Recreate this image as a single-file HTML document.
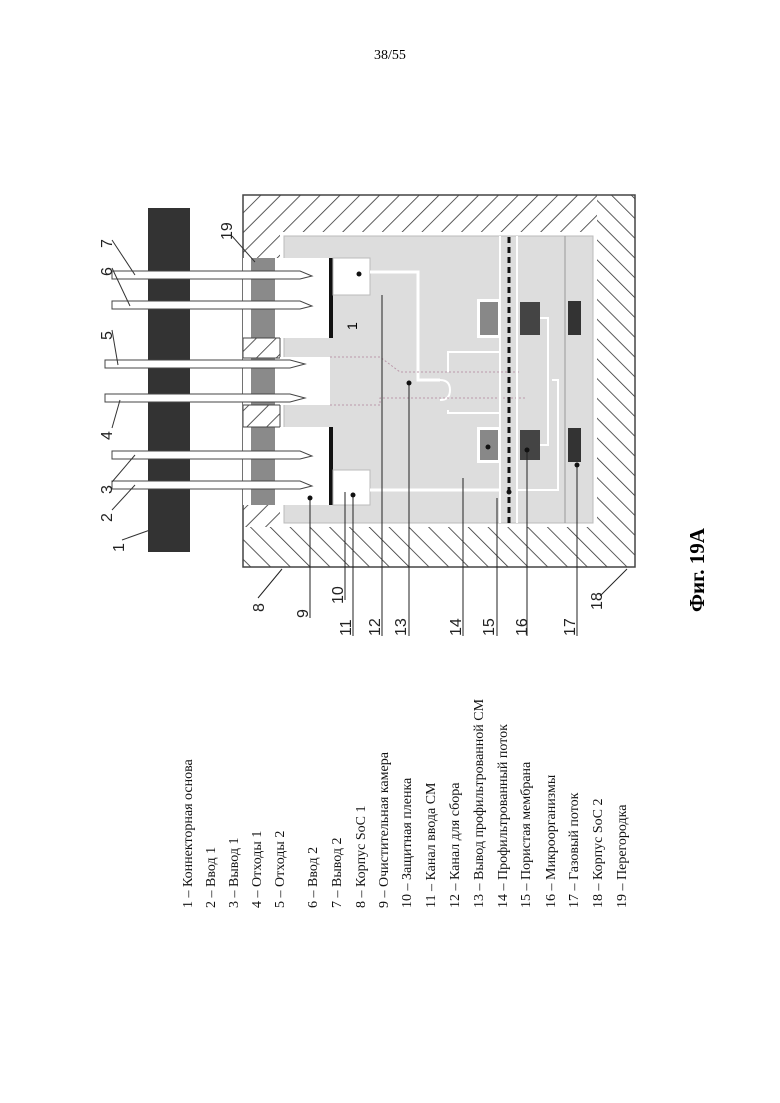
<!DOCTYPE html>
<html><head><meta charset="utf-8"><style>
html,body{margin:0;padding:0;background:#fff;}
svg{display:block;font-family:"Liberation Serif",serif;}
.s{font-family:"Liberation Sans",sans-serif;}
</style></head><body>
<svg width="780" height="1103" viewBox="0 0 780 1103" xmlns="http://www.w3.org/2000/svg">
<defs>
<pattern id="h" patternUnits="userSpaceOnUse" width="14" height="14" patternTransform="rotate(45)">
<rect width="14" height="14" fill="#fff"/><line x1="0" y1="0" x2="0" y2="14" stroke="#333" stroke-width="1.6"/>
</pattern>
<pattern id="h2" patternUnits="userSpaceOnUse" width="14" height="14" patternTransform="rotate(-45)">
<rect width="14" height="14" fill="#fff"/><line x1="0" y1="0" x2="0" y2="14" stroke="#333" stroke-width="1.6"/>
</pattern>
</defs>
<text x="390" y="59" font-size="14" text-anchor="middle">38/55</text>

<!-- outer hatched -->
<rect x="243" y="195" width="392" height="372" fill="url(#h)"/>
<rect x="243" y="527" width="392" height="40" fill="url(#h2)"/>
<rect x="597" y="195" width="38" height="372" fill="url(#h2)"/>
<rect x="243" y="195" width="392" height="372" fill="none" stroke="#444" stroke-width="1.5"/>
<rect x="280" y="232" width="317" height="295" fill="#fff"/>
<rect x="284" y="236" width="309" height="287" fill="#ddd" stroke="#bbb"/>
<!-- left opening -->
<rect x="243" y="258" width="40" height="247" fill="#fff"/>
<rect x="251" y="258" width="24" height="247" fill="#8a8a8a"/>
<rect x="243" y="338" width="37" height="20" fill="url(#h)" stroke="#444"/>
<rect x="243" y="405" width="37" height="22" fill="url(#h)" stroke="#444"/>
<!-- white chambers -->
<rect x="280" y="258" width="52" height="80" fill="#fff"/>
<rect x="280" y="427" width="52" height="78" fill="#fff"/>
<rect x="280" y="357" width="50" height="48" fill="#fff"/>
<rect x="329" y="258" width="4" height="80" fill="#111"/>
<rect x="329" y="427" width="4" height="78" fill="#111"/>
<rect x="333" y="258" width="37" height="37" fill="#fff" stroke="#bbb"/>
<rect x="333" y="470" width="37" height="35" fill="#fff" stroke="#bbb"/>
<text x="357" y="330" font-size="14" class="s" transform="rotate(-90 357 330)">1</text>
<!-- channels -->
<polyline points="370,272 418,272 418,380 440,380" fill="none" stroke="#fff" stroke-width="3"/>
<polyline points="370,490 500,490" fill="none" stroke="#fff" stroke-width="3"/>
<path d="M448,372 L448,352 L500,352 M448,410 L448,413 L500,413" fill="none" stroke="#fff" stroke-width="2"/>
<path d="M440,380 Q450,380 450,390 Q450,400 440,400" fill="none" stroke="#fff" stroke-width="2"/>
<path d="M330,357 L380,357 L400,372 L520,372 M330,405 L380,405 L380,398 L525,398" fill="none" stroke="#b9a" stroke-width="1" stroke-dasharray="2,2"/>
<line x1="500" y1="236" x2="500" y2="523" stroke="#fff" stroke-width="2"/>
<line x1="517" y1="236" x2="517" y2="523" stroke="#fff" stroke-width="2"/>
<line x1="565" y1="236" x2="565" y2="523" stroke="#999" stroke-width="1"/>
<line x1="509" y1="237" x2="509" y2="523" stroke="#111" stroke-width="3" stroke-dasharray="6,4"/>
<path d="M540,318 L548,318 L548,445 L540,445 M552,380 L558,380 L558,490 L517,490" fill="none" stroke="#fff" stroke-width="2"/>
<!-- rectangles -->
<rect x="477" y="299" width="24" height="39" fill="#fff"/>
<rect x="480" y="302" width="18" height="33" fill="#888"/>
<rect x="477" y="427" width="24" height="36" fill="#fff"/>
<rect x="480" y="430" width="18" height="30" fill="#888"/>
<rect x="520" y="302" width="20" height="33" fill="#444"/>
<rect x="520" y="430" width="20" height="30" fill="#444"/>
<rect x="568" y="301" width="13" height="34" fill="#333"/>
<rect x="568" y="428" width="13" height="34" fill="#333"/>
<!-- connector base & pins -->
<rect x="148" y="208" width="42" height="344" fill="#333"/>
<g fill="#fff" stroke="#444" stroke-width="1">
<path d="M112,271 L300,271 L312,276 L300,279 L112,279 Z"/>
<path d="M112,301 L300,301 L312,306 L300,309 L112,309 Z"/>
<path d="M105,360 L290,360 L305,364 L290,368 L105,368 Z"/>
<path d="M105,394 L290,394 L305,398 L290,402 L105,402 Z"/>
<path d="M112,451 L300,451 L312,456 L300,459 L112,459 Z"/>
<path d="M112,481 L300,481 L312,486 L300,489 L112,489 Z"/>
</g>
<!-- top labels and leaders -->
<g font-size="16" class="s" stroke="#333" fill="none">
<line x1="122" y1="540" x2="150" y2="530"/><line x1="112" y1="510" x2="135" y2="485"/>
<line x1="112" y1="482" x2="135" y2="455"/><line x1="112" y1="428" x2="120" y2="400"/>
<line x1="112" y1="330" x2="118" y2="365"/><line x1="112" y1="268" x2="130" y2="306"/>
<line x1="112" y1="240" x2="135" y2="275"/><line x1="232" y1="236" x2="255" y2="262"/>
</g>
<g font-size="16" class="s" fill="#222">
<text transform="translate(124,552) rotate(-90)">1</text>
<text transform="translate(112,522) rotate(-90)">2</text>
<text transform="translate(112,494) rotate(-90)">3</text>
<text transform="translate(112,440) rotate(-90)">4</text>
<text transform="translate(112,340) rotate(-90)">5</text>
<text transform="translate(112,276) rotate(-90)">6</text>
<text transform="translate(112,248) rotate(-90)">7</text>
<text transform="translate(232,240) rotate(-90)">19</text>
</g>
<!-- bottom leaders -->
<g stroke="#222" stroke-width="1" fill="none">
<line x1="310" y1="498" x2="310" y2="618"/>
<line x1="345" y1="492" x2="345" y2="600"/>
<line x1="353" y1="495" x2="353" y2="636"/>
<line x1="382" y1="295" x2="382" y2="636"/>
<line x1="409" y1="383" x2="409" y2="636"/>
<line x1="463" y1="478" x2="463" y2="636"/>
<line x1="497" y1="498" x2="497" y2="636"/>
<line x1="527" y1="450" x2="527" y2="636"/>
<line x1="577" y1="465" x2="577" y2="636"/>
<line x1="258" y1="598" x2="282" y2="569"/>
<line x1="600" y1="596" x2="627" y2="569"/>
</g>
<g fill="#111"><circle cx="310" cy="498" r="2.5"/><circle cx="353" cy="495" r="2.5"/><circle cx="359" cy="274" r="2.5"/><circle cx="409" cy="383" r="2.5"/><circle cx="488" cy="447" r="2.5"/><circle cx="509" cy="492" r="2.5"/><circle cx="527" cy="450" r="2.5"/><circle cx="577" cy="465" r="2.5"/></g>
<g font-size="16" class="s" fill="#222">
<text transform="translate(264,612) rotate(-90)">8</text>
<text transform="translate(308,618) rotate(-90)">9</text>
<text transform="translate(343,604) rotate(-90)">10</text>
<text transform="translate(351,636) rotate(-90)">11</text>
<text transform="translate(380,636) rotate(-90)">12</text>
<text transform="translate(406,636) rotate(-90)">13</text>
<text transform="translate(461,636) rotate(-90)">14</text>
<text transform="translate(494,636) rotate(-90)">15</text>
<text transform="translate(527,636) rotate(-90)">16</text>
<text transform="translate(575,636) rotate(-90)">17</text>
<text transform="translate(602,610) rotate(-90)">18</text>
</g>
<text transform="translate(704,612) rotate(-90)" font-size="21" font-weight="bold">Фиг. 19А</text>

<!-- legend -->
<g font-size="14" fill="#111">
<text transform="translate(192,908) rotate(-90)">1 – Коннекторная основа</text>
<text transform="translate(215,908) rotate(-90)">2 – Ввод 1</text>
<text transform="translate(238,908) rotate(-90)">3 – Вывод 1</text>
<text transform="translate(261,908) rotate(-90)">4 – Отходы 1</text>
<text transform="translate(284,908) rotate(-90)">5 – Отходы 2</text>
<text transform="translate(317,908) rotate(-90)">6 – Ввод 2</text>
<text transform="translate(341,908) rotate(-90)">7 – Вывод 2</text>
<text transform="translate(365,908) rotate(-90)">8 – Корпус SoC 1</text>
<text transform="translate(388,908) rotate(-90)">9 – Очистительная камера</text>
<text transform="translate(411,908) rotate(-90)">10 – Защитная пленка</text>
<text transform="translate(435,908) rotate(-90)">11 – Канал ввода СМ</text>
<text transform="translate(459,908) rotate(-90)">12 – Канал для сбора</text>
<text transform="translate(483,908) rotate(-90)">13 – Вывод профильтрованной СМ</text>
<text transform="translate(507,908) rotate(-90)">14 – Профильтрованный поток</text>
<text transform="translate(530,908) rotate(-90)">15 – Пористая мембрана</text>
<text transform="translate(555,908) rotate(-90)">16 – Микроорганизмы</text>
<text transform="translate(578,908) rotate(-90)">17 – Газовый поток</text>
<text transform="translate(602,908) rotate(-90)">18 – Корпус SoC 2</text>
<text transform="translate(626,908) rotate(-90)">19 – Перегородка</text>
</g>
</svg>
</body></html>
